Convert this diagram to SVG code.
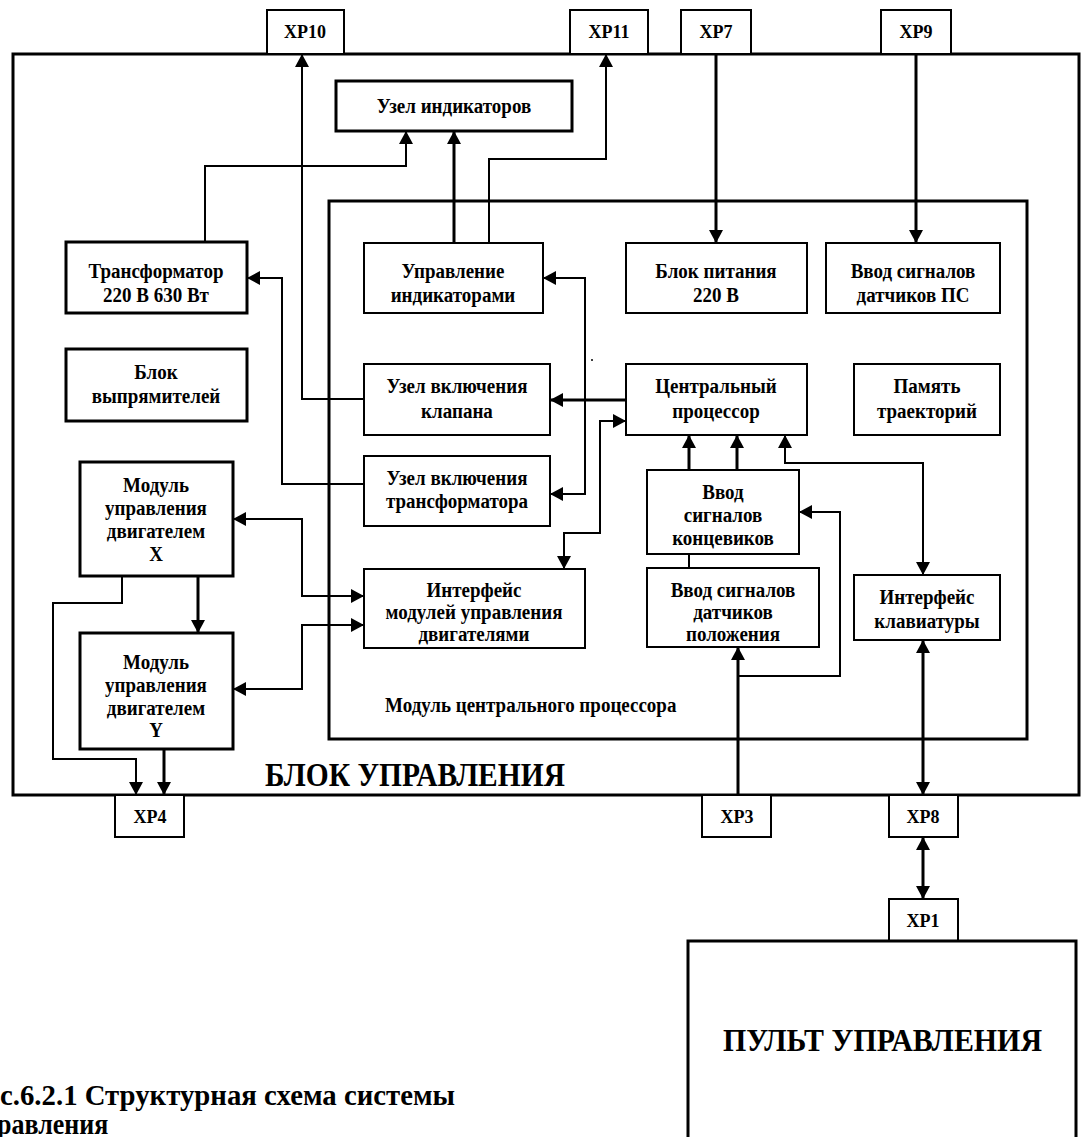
<svg xmlns="http://www.w3.org/2000/svg" width="1081" height="1137" viewBox="0 0 1081 1137">
<style>
text{font-family:"Liberation Serif","Times New Roman",serif;font-weight:bold;fill:#000;text-anchor:middle;font-size:19px;transform-box:fill-box;transform-origin:center;transform:scaleY(1.1)}
.xp{font-size:18px}
.l{text-anchor:start}
.box{fill:#fff;stroke:#000;stroke-width:2}
.bt{fill:#fff;stroke:#000;stroke-width:3}
.frame{fill:none;stroke:#000;stroke-width:3}
.c{fill:none;stroke:#000;stroke-width:2}
.ct{fill:none;stroke:#000;stroke-width:3}
</style>
<defs>
<marker id="ah" markerUnits="userSpaceOnUse" markerWidth="14" markerHeight="14" viewBox="0 0 13 14" refX="13" refY="7" orient="auto-start-reverse"><path d="M0,0 L13,7 L0,14 z" fill="#000"/></marker>
</defs>
<rect width="1081" height="1137" fill="#fff"/>

<g id="outer-block">
<rect class="frame" x="13" y="54" width="1066" height="741"/>
<text x="265" y="785" class="l" style="font-size:30px" textLength="300" lengthAdjust="spacingAndGlyphs">БЛОК УПРАВЛЕНИЯ</text>
</g>
<g id="cpu-module">
<rect class="frame" x="329" y="201" width="698" height="538"/>
<text x="385" y="711" class="l">Модуль центрального процессора</text>
<circle cx="592" cy="360" r="1" fill="#000"/>
</g>

<g id="connectors">
<path class="c" d="M364,399 H302 V54" marker-end="url(#ah)"/>
<path class="c" d="M205,242 V166 H406 V131" marker-end="url(#ah)"/>
<path class="ct" d="M454,243 V131" marker-end="url(#ah)"/>
<path class="c" d="M489,243 V159 H606 V54" marker-end="url(#ah)"/>
<path class="ct" d="M716,54 V243" marker-end="url(#ah)"/>
<path class="ct" d="M916,54 V243" marker-end="url(#ah)"/>
<path class="c" d="M364,484 H282 V278 H247" marker-end="url(#ah)"/>
<path class="c" d="M543,278 H585 V494 H550" marker-start="url(#ah)" marker-end="url(#ah)"/>
<path class="ct" d="M626,400 H550" marker-end="url(#ah)"/>
<path class="c" d="M626,421 H600 V533 H564 V569" marker-start="url(#ah)" marker-end="url(#ah)"/>
<path class="ct" d="M689,470 V435" marker-end="url(#ah)"/>
<path class="ct" d="M737,470 V435" marker-end="url(#ah)"/>
<path class="c" d="M785,435 V463 H923 V575" marker-start="url(#ah)" marker-end="url(#ah)"/>
<path class="c" d="M689,554 V568"/>
<path class="ct" d="M738,795 V647" marker-end="url(#ah)"/>
<path class="c" d="M738,676 H840 V512 H799" marker-end="url(#ah)"/>
<path class="ct" d="M923,640 V795" marker-start="url(#ah)" marker-end="url(#ah)"/>
<path class="ct" d="M923,837 V899" marker-start="url(#ah)" marker-end="url(#ah)"/>
<path class="c" d="M233,519 H302 V596 H364" marker-start="url(#ah)" marker-end="url(#ah)"/>
<path class="c" d="M364,625 H302 V689 H233" marker-start="url(#ah)" marker-end="url(#ah)"/>
<path class="ct" d="M198,576 V633" marker-end="url(#ah)"/>
<path class="c" d="M122,576 V603 H53 V759 H136 V795" marker-end="url(#ah)"/>
<path class="ct" d="M164,749 V795" marker-end="url(#ah)"/>
</g>

<g id="xp10"><rect class="box" x="267" y="10" width="77" height="44"/><text class="xp" x="305" y="37">XP10</text></g>
<g id="xp11"><rect class="box" x="570" y="10" width="78" height="44"/><text class="xp" x="609" y="37">XP11</text></g>
<g id="xp7"><rect class="box" x="681" y="10" width="70" height="44"/><text class="xp" x="716" y="37">XP7</text></g>
<g id="xp9"><rect class="box" x="881" y="10" width="70" height="44"/><text class="xp" x="916" y="37">XP9</text></g>
<g id="xp4"><rect class="box" x="115" y="795" width="69" height="42"/><text class="xp" x="150" y="822">XP4</text></g>
<g id="xp3"><rect class="box" x="702" y="795" width="69" height="42"/><text class="xp" x="737" y="822">XP3</text></g>
<g id="xp8"><rect class="box" x="889" y="795" width="69" height="42"/><text class="xp" x="923" y="822">XP8</text></g>
<g id="xp1"><rect class="box" x="889" y="899" width="69" height="42"/><text class="xp" x="923" y="926">XP1</text></g>

<g id="uzel-indikatorov"><rect class="bt" x="336" y="81" width="236" height="50"/><text x="454" y="112">Узел индикаторов</text></g>
<g id="transformator"><rect class="bt" x="66" y="242" width="181" height="71"/><text x="156" y="277">Трансформатор</text><text x="156" y="301">220 В 630 Вт</text></g>
<g id="upr-indikatorami"><rect class="box" x="364" y="243" width="179" height="70"/><text x="453" y="277">Управление</text><text x="453" y="301">индикаторами</text></g>
<g id="blok-pitaniya"><rect class="box" x="626" y="243" width="181" height="70"/><text x="716" y="277">Блок питания</text><text x="716" y="301">220 В</text></g>
<g id="vvod-ps"><rect class="box" x="826" y="243" width="174" height="70"/><text x="913" y="277">Ввод сигналов</text><text x="913" y="301">датчиков ПС</text></g>
<g id="blok-vypryamiteley"><rect class="bt" x="66" y="349" width="181" height="72"/><text x="156" y="378">Блок</text><text x="156" y="402">выпрямителей</text></g>
<g id="uzel-klapana"><rect class="box" x="364" y="364" width="186" height="71"/><text x="457" y="392">Узел включения</text><text x="457" y="417">клапана</text></g>
<g id="cpu"><rect class="box" x="626" y="364" width="181" height="71"/><text x="716" y="392">Центральный</text><text x="716" y="417">процессор</text></g>
<g id="pamyat"><rect class="box" x="854" y="364" width="146" height="71"/><text x="927" y="392">Память</text><text x="927" y="417">траекторий</text></g>
<g id="uzel-transformatora"><rect class="box" x="364" y="456" width="186" height="70"/><text x="457" y="484">Узел включения</text><text x="457" y="507">трансформатора</text></g>
<g id="modul-x"><rect class="bt" x="80" y="462" width="153" height="114"/><text x="156" y="491">Модуль</text><text x="156" y="514">управления</text><text x="156" y="537">двигателем</text><text x="156" y="560">X</text></g>
<g id="vvod-koncevikov"><rect class="box" x="647" y="470" width="152" height="84"/><text x="723" y="498">Ввод</text><text x="723" y="521">сигналов</text><text x="723" y="544">концевиков</text></g>
<g id="interfeis-modulei"><rect class="box" x="364" y="569" width="221" height="79"/><text x="474" y="596">Интерфейс</text><text x="474" y="618">модулей управления</text><text x="474" y="640">двигателями</text></g>
<g id="vvod-polozheniya"><rect class="box" x="647" y="568" width="172" height="79"/><text x="733" y="596">Ввод сигналов</text><text x="733" y="618">датчиков</text><text x="733" y="640">положения</text></g>
<g id="interfeis-klaviatury"><rect class="box" x="854" y="575" width="146" height="65"/><text x="927" y="603">Интерфейс</text><text x="927" y="627">клавиатуры</text></g>
<g id="modul-y"><rect class="bt" x="80" y="633" width="153" height="116"/><text x="156" y="668">Модуль</text><text x="156" y="691">управления</text><text x="156" y="714">двигателем</text><text x="156" y="736">Y</text></g>

<g id="pult"><rect class="bt" x="688" y="941" width="388" height="230"/><text x="723" y="1050" class="l" style="font-size:28px" textLength="319" lengthAdjust="spacingAndGlyphs">ПУЛЬТ УПРАВЛЕНИЯ</text></g>

<g id="caption">
<text x="0" y="1104" class="l" style="font-size:26px" textLength="455" lengthAdjust="spacingAndGlyphs">с.6.2.1 Структурная схема системы</text>
<text x="-3" y="1133" class="l" style="font-size:26px">равления</text>
</g>
</svg>
